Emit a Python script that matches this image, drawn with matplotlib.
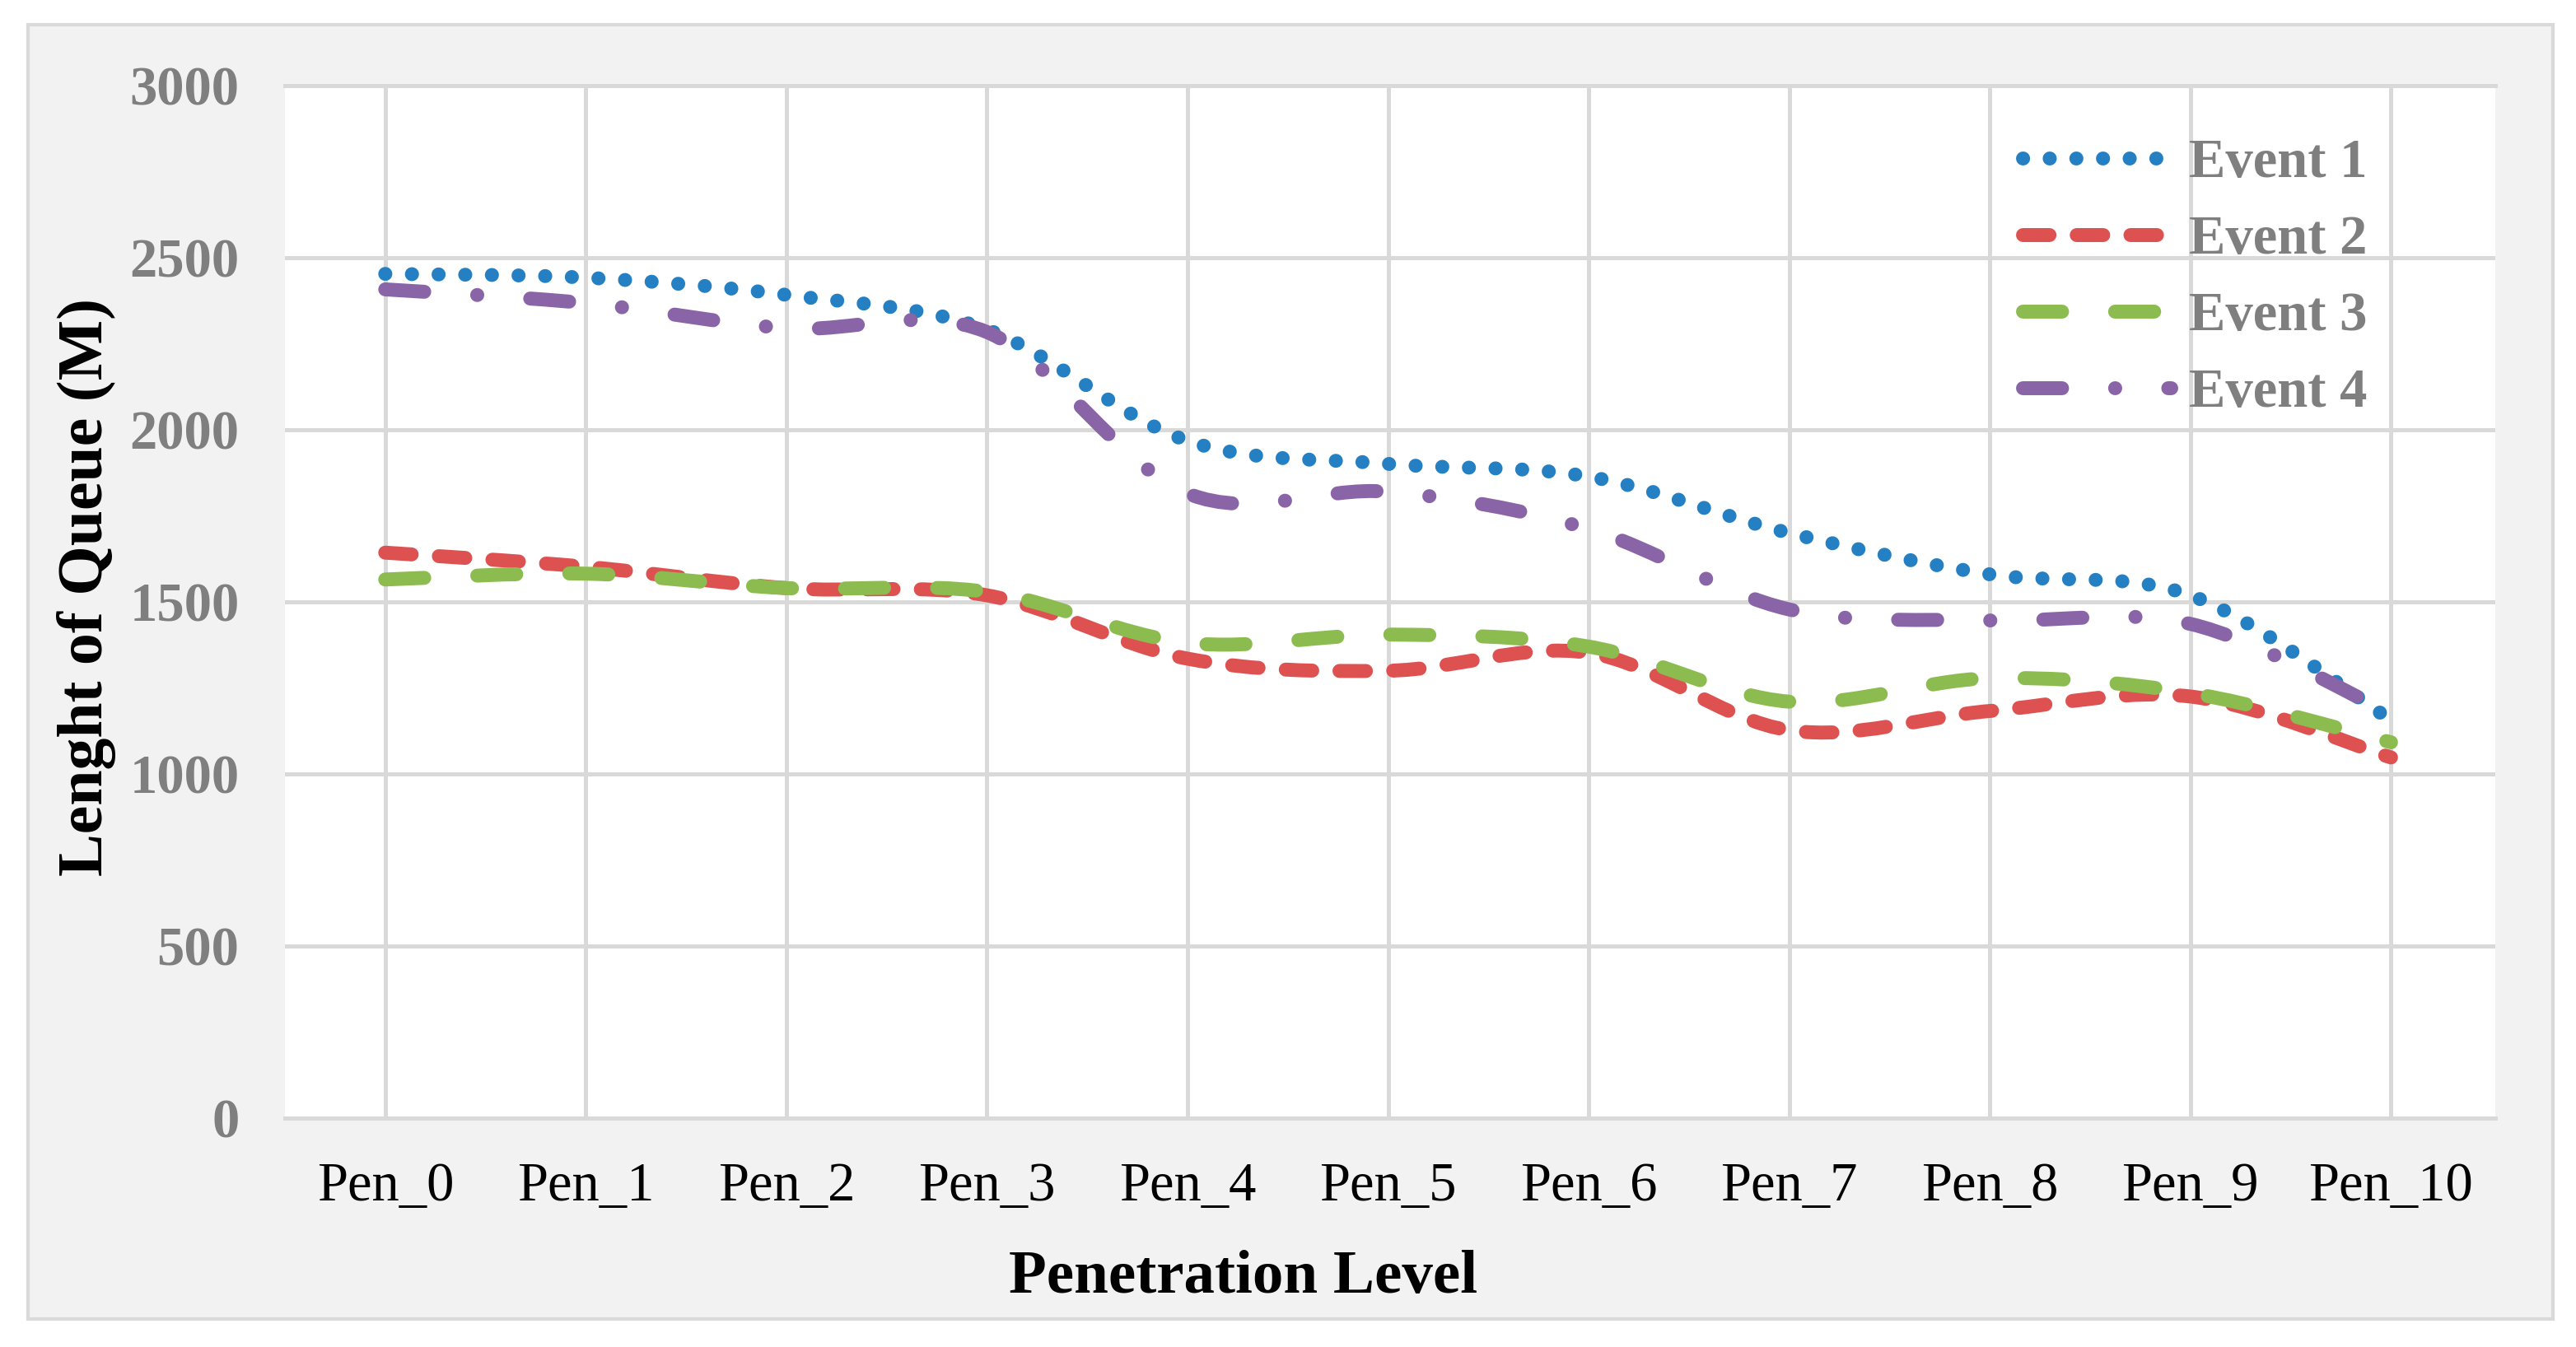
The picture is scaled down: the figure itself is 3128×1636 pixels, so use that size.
import matplotlib
matplotlib.use("Agg")
import matplotlib.pyplot as plt
from matplotlib.path import Path
from matplotlib.patches import PathPatch, Rectangle
from matplotlib.lines import Line2D

plt.rcParams["font.family"] = ["Liberation Serif", "DejaVu Serif"]

categories = ["Pen_0", "Pen_1", "Pen_2", "Pen_3", "Pen_4", "Pen_5",
              "Pen_6", "Pen_7", "Pen_8", "Pen_9", "Pen_10"]
event1 = [2453, 2442, 2392, 2291, 1968, 1901, 1864, 1700, 1580, 1519, 1157]
event2 = [1643, 1602, 1540, 1519, 1335, 1300, 1352, 1127, 1183, 1225, 1048]
event3 = [1565, 1582, 1540, 1529, 1381, 1405, 1370, 1210, 1278, 1235, 1092]
event4 = [2408, 2368, 2295, 2284, 1815, 1820, 1712, 1478, 1446, 1436, 1175]
series_names = ["Event 1", "Event 2", "Event 3", "Event 4"]

colors = ["#2580C3", "#DE5151", "#8CBC50", "#8964A6"]
styles = [(0, (0.01, 1.9)), (0, (1.9, 1.95)), (0, (2.8, 3.8)),
          (0, (2.8, 3.8, 0.01, 3.8))]
LW = 6.1
GRID = "#D9D9D9"


def smooth_path(xs, ys):
    # Excel-like smoothed line: cubic Bezier segments through the data points
    n = len(xs)
    verts = [(xs[0], ys[0])]
    codes = [Path.MOVETO]
    for i in range(n - 1):
        p0 = i - 1 if i > 0 else i
        p3 = i + 2 if i + 2 < n else i + 1
        c1 = (xs[i] + (xs[i + 1] - xs[p0]) / 6, ys[i] + (ys[i + 1] - ys[p0]) / 6)
        c2 = (xs[i + 1] - (xs[p3] - xs[i]) / 6, ys[i + 1] - (ys[p3] - ys[i]) / 6)
        verts += [c1, c2, (xs[i + 1], ys[i + 1])]
        codes += [Path.CURVE4] * 3
    return Path(verts, codes)


W, H = 3128, 1636
fig = plt.figure(figsize=(W / 200, H / 200), dpi=200, facecolor="white")
fig.add_artist(Rectangle((34 / W, 1 - 1602 / H), (3100 - 34) / W, (1602 - 30) / H,
                         transform=fig.transFigure, facecolor="#F2F2F2",
                         edgecolor=GRID, linewidth=1.5, zorder=-10))

ax = fig.add_axes([346 / W, 1 - 1358 / H, (3030 - 346) / W, (1358 - 104) / H])
ax.set_facecolor("white")

x = list(range(len(categories)))
handles = []
for vals, name, col, ls in zip([event1, event2, event3, event4], series_names, colors, styles):
    patch = PathPatch(smooth_path(x, vals), fill=False, edgecolor=col, linewidth=LW,
                      linestyle=ls, capstyle="round", joinstyle="round", zorder=3)
    ax.add_patch(patch)
    handles.append(Line2D([], [], color=col, linewidth=LW, linestyle=ls,
                          dash_capstyle="round", solid_capstyle="round", label=name))

ax.set_xlim(-0.5, 10.52)
ax.set_ylim(0, 3000)
ax.set_xticks(x)
ax.set_xticklabels(categories, fontsize=24, color="black")
ax.set_yticks(range(0, 3001, 500))
ax.set_yticklabels([str(v) for v in range(0, 3001, 500)], fontsize=24,
                   fontweight="bold", color="#7F7F7F")
ax.tick_params(axis="both", length=0)
ax.tick_params(axis="y", pad=20)
ax.tick_params(axis="x", pad=19)
ax.grid(True, color=GRID, linewidth=1.8, zorder=1)
ax.set_axisbelow(True)
for side in ["left", "right"]:
    ax.spines[side].set_visible(False)
for side in ["top", "bottom"]:
    ax.spines[side].set_color(GRID)
    ax.spines[side].set_linewidth(1.8)

leg = ax.legend(handles=handles, loc="upper left",
                bbox_to_anchor=(2456 / W, 1 - 168 / H), bbox_transform=fig.transFigure,
                frameon=False, handlelength=2.7, handletextpad=0.33,
                labelspacing=0.48, borderpad=0, borderaxespad=0,
                prop={"size": 24, "weight": "bold"})
for t in leg.get_texts():
    t.set_color("#7F7F7F")

fig.text(105 / W, 1 - 713 / H, "Lenght of Queue (M)", rotation=90, ha="center",
         va="center", fontsize=28, fontweight="bold")
fig.text(1510 / W, 1 - 1552 / H, "Penetration Level", ha="center", va="center",
         fontsize=27, fontweight="bold")

fig.savefig("out.png", dpi=200, facecolor="white")
plt.close(fig)
